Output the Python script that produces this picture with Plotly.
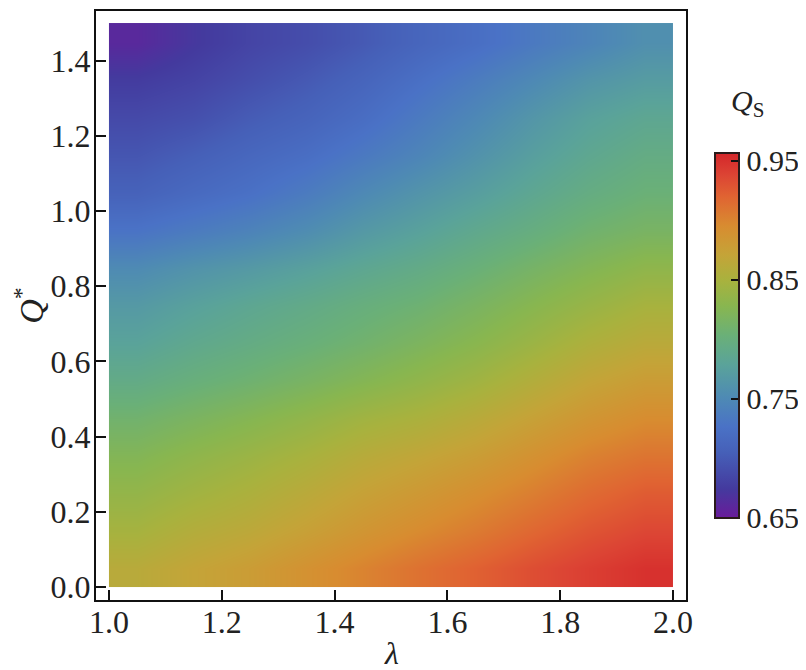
import plotly.graph_objects as go

# cell edges of the density grid
lam_edges = [1.0, 1.1, 1.2, 1.3, 1.4, 1.5, 1.6, 1.7, 1.8, 1.9, 2.0]
q_edges = [0.0, 0.1, 0.2, 0.3, 0.4, 0.5, 0.6, 0.7, 0.8, 0.9, 1.0, 1.1, 1.2, 1.3, 1.4, 1.5]

# Q_S values, one row per Q* cell (bottom to top), columns lambda 1.05..1.95
qs_q005 = [0.862, 0.871, 0.879, 0.890, 0.901, 0.912, 0.922, 0.933, 0.942, 0.950]
qs_q015 = [0.848, 0.858, 0.865, 0.875, 0.886, 0.896, 0.906, 0.918, 0.929, 0.937]
qs_q025 = [0.836, 0.845, 0.853, 0.863, 0.874, 0.883, 0.893, 0.904, 0.916, 0.925]
qs_q035 = [0.824, 0.833, 0.841, 0.850, 0.861, 0.869, 0.878, 0.890, 0.902, 0.910]
qs_q045 = [0.810, 0.818, 0.826, 0.835, 0.845, 0.852, 0.862, 0.874, 0.886, 0.895]
qs_q055 = [0.793, 0.801, 0.808, 0.816, 0.825, 0.834, 0.844, 0.857, 0.870, 0.879]
qs_q065 = [0.779, 0.788, 0.795, 0.802, 0.810, 0.819, 0.829, 0.841, 0.854, 0.863]
qs_q075 = [0.768, 0.777, 0.785, 0.792, 0.800, 0.807, 0.817, 0.828, 0.839, 0.849]
qs_q085 = [0.752, 0.761, 0.768, 0.776, 0.785, 0.793, 0.803, 0.814, 0.824, 0.833]
qs_q095 = [0.728, 0.736, 0.744, 0.754, 0.767, 0.777, 0.788, 0.798, 0.809, 0.816]
qs_q105 = [0.708, 0.717, 0.725, 0.736, 0.750, 0.762, 0.773, 0.785, 0.796, 0.804]
qs_q115 = [0.697, 0.705, 0.714, 0.722, 0.734, 0.746, 0.760, 0.774, 0.786, 0.795]
qs_q125 = [0.687, 0.692, 0.702, 0.710, 0.721, 0.735, 0.749, 0.764, 0.777, 0.785]
qs_q135 = [0.676, 0.682, 0.691, 0.700, 0.711, 0.724, 0.737, 0.750, 0.763, 0.771]
qs_q145 = [0.661, 0.673, 0.683, 0.690, 0.700, 0.712, 0.722, 0.734, 0.745, 0.757]

z_rows = [qs_q005, qs_q015, qs_q025, qs_q035, qs_q045, qs_q055, qs_q065, qs_q075,
          qs_q085, qs_q095, qs_q105, qs_q115, qs_q125, qs_q135, qs_q145]

x_ticks = [1.0, 1.2, 1.4, 1.6, 1.8, 2.0]
y_ticks = [0.0, 0.2, 0.4, 0.6, 0.8, 1.0, 1.2, 1.4]
cb_ticks = [0.65, 0.75, 0.85, 0.95]
z_min, z_max = 0.65, 0.957

rainbow = [
    [0.00, "#6a1b9a"],
    [0.08, "#443a9e"],
    [0.18, "#4660b8"],
    [0.25, "#4a72c6"],
    [0.33, "#4e8ab4"],
    [0.42, "#5aa39a"],
    [0.50, "#6ab078"],
    [0.58, "#88b650"],
    [0.65, "#a8b23e"],
    [0.72, "#c4a438"],
    [0.80, "#d88c30"],
    [0.88, "#e06432"],
    [0.94, "#dc4434"],
    [1.00, "#d4262a"],
]

SERIF = "Liberation Serif"
# the page body has an 8 px margin, so the figure is 8 px smaller than the window
OFF = 8
W, H = 806 - OFF, 670 - OFF
L, R, T, B = 96 - OFF, 686 - OFF, 11 - OFF, 600 - OFF   # plot-area edges in figure pixels
PW, PH = R - L, B - T

def px_x(x):
    return (x - OFF - L) / PW

def px_y(y):
    return (B - (y - OFF)) / PH

fig = go.Figure(go.Heatmap(
    x=lam_edges, y=q_edges, z=z_rows,
    zsmooth="best", colorscale=rainbow, zmin=z_min, zmax=z_max,
    colorbar=dict(
        x=px_x(715), xanchor="left",
        y=px_y(152.5), yanchor="top",
        thickness=24, thicknessmode="pixels",
        len=365, lenmode="pixels",
        xpad=0, ypad=0,
        outlinewidth=2, outlinecolor="#2a1a1a",
        ticks="inside", ticklen=9, tickwidth=2, tickcolor="#111",
        tickvals=cb_ticks, ticktext=[f"{v:.2f}" for v in cb_ticks],
        tickfont=dict(family=SERIF, size=30, color="#222"),
    ),
))

axis_common = dict(
    showline=True, mirror=True, linewidth=2, linecolor="#111",
    ticks="inside", ticklen=10, tickwidth=2, tickcolor="#111",
    showgrid=False, zeroline=False, automargin=False,
    tickfont=dict(family=SERIF, size=32, color="#222"),
)

fig.update_layout(
    width=W, height=H,
    margin=dict(l=L, r=W - R, t=T, b=H - B, autoexpand=False),
    paper_bgcolor="white", plot_bgcolor="white",
    xaxis=dict(range=[0.977, 2.023], tickvals=x_ticks,
               ticktext=[f"{v:.1f}" for v in x_ticks],
               ticklabelstandoff=-7,
               **axis_common),
    yaxis=dict(range=[-0.0346, 1.532], tickvals=y_ticks,
               ticktext=[f"{v:.1f}" for v in y_ticks],
               ticklabelstandoff=-3,
               title=dict(text="<i>Q</i><sup>*</sup>", font=dict(family=SERIF, size=34, color="#222")),
               **axis_common),
    annotations=[
        dict(text="<i>Q</i><sub>S</sub>", xref="paper", yref="paper",
             x=px_x(747), y=px_y(103), xanchor="center", yanchor="middle",
             showarrow=False, font=dict(family=SERIF, size=30, color="#222")),
        dict(text="<i>λ</i>", xref="paper", yref="paper",
             x=px_x(391), y=px_y(653), xanchor="center", yanchor="middle",
             showarrow=False, font=dict(family=SERIF, size=32, color="#222")),
    ],
)

fig.write_html("out.html")
